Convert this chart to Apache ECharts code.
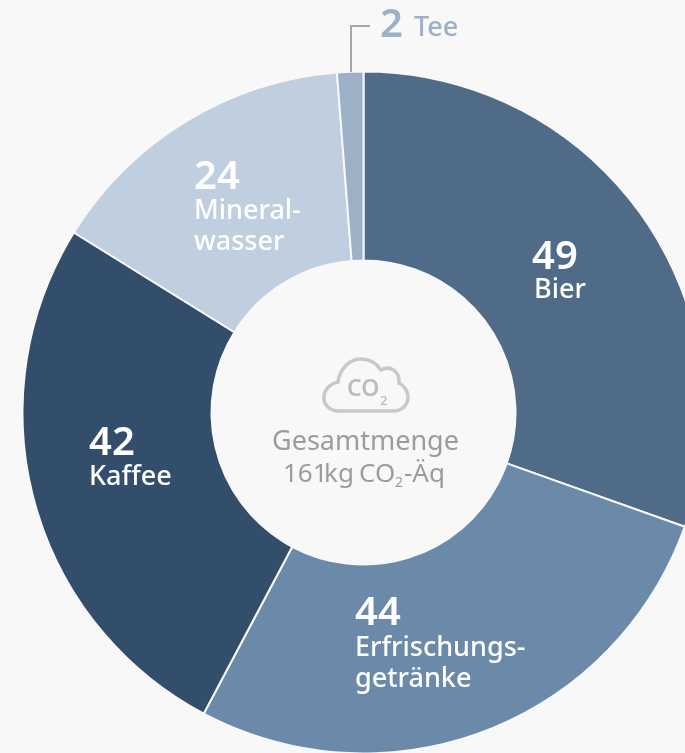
<!DOCTYPE html>
<html><head><meta charset="utf-8">
<style>html,body{margin:0;padding:0;background:#f8f8f8}#c{width:685px;height:753px}</style>
<script src="https://cdn.jsdelivr.net/npm/echarts@6/dist/echarts.min.js"></script>
</head><body><div id="c"></div>
<script>
const categories = ['Bier','Erfrischungsgetränke','Kaffee','Mineralwasser','Tee'];
const values = [49,44,42,24,2];
const colors = ['#4f6b88','#6b8aaa','#334e6b','#c0cfdf','#9cb1c8'];
const FONT = '"Noto Sans", sans-serif';
const txt = (t,x,base,size,fill,w) => ({type:'text',z:10,x,y:base-size*0.27,style:{text:t,fill,font:`${w} ${size}px ${FONT}`,textVerticalAlign:'middle',verticalAlign:'middle'}});
const big = (t,x,y,fill='#fff') => txt(t,x,y,40,fill,600);
const small = (t,x,y,fill='#fff') => txt(t,x,y,27,fill,500);
const grey='#9c9c9c';
echarts.graphic.registerShape('cloud', echarts.graphic.extendPath('M339 411 C328 411 323 403 324 396 C325 388 332 383 338 382 C340 368 350 359 361 359 C370 359 377 364 381 370 C390 365 400 371 399 383 C405 386 408 392 408 397 C408 405 402 411 393 411 Z',{}));
const chart = echarts.init(document.getElementById('c'),null,{renderer:'canvas'});
chart.setOption({
  backgroundColor:'#f8f8f8',
  animation:false,
  series:[{type:'pie',center:[363.5,412.5],radius:[152,341],startAngle:90,clockwise:true,
    silent:true,label:{show:false},labelLine:{show:false},
    itemStyle:{borderColor:'#f8f8f8',borderWidth:2},
    data:categories.map((name,i)=>({name,value:values[i],itemStyle:{color:colors[i]}}))}],
  graphic:[
    big(String(values[0]),532,268), small('Bier',534,298),
    big(String(values[1]),355,624), small('Erfrischungs-',355,656), small('getränke',355,687),
    big(String(values[2]),89,454), small('Kaffee',89,485),
    big(String(values[3]),194,188), small('Mineral-',194,219), small('wasser',194,250),
    big(String(values[4]),380,36,'#9cb1c8'), small('Tee',414,36,'#9cb1c8'),
    {type:'polyline',z:10,shape:{points:[[370,26],[351,26],[351,72]]},style:{stroke:'#a8a8a8',lineWidth:2,fill:null}},
    {type:'cloud',z:10,style:{fill:null,stroke:'#c8c8c8',lineWidth:3.5}},
    txt('CO',347,396,23,'#bcbcbc',600),
    txt('2',380,405,13,'#bcbcbc',500),
    txt('Gesamtmenge',272,450,27,grey,400),
    txt('161',283,482,26,grey,400),
    txt('kg',324,482,26,grey,400),
    txt('CO',359,482,26,grey,400),
    txt('2',395,487,14,grey,400),
    txt('-Äq',404,482,26,grey,400)
  ]
});
</script></body></html>
